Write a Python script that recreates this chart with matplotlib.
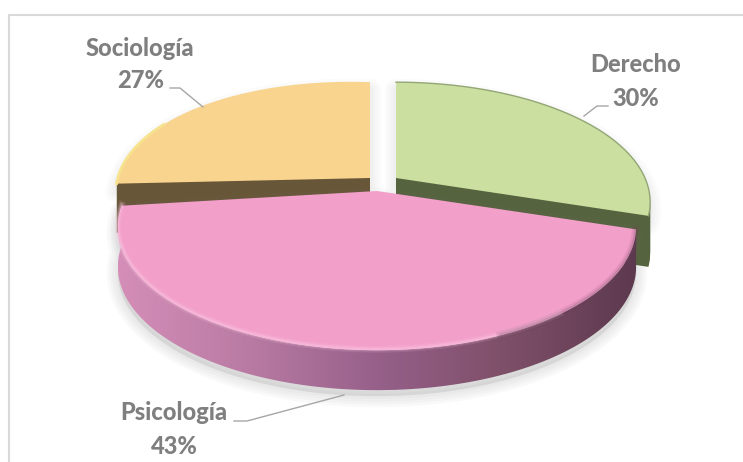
import matplotlib
matplotlib.use('Agg')
import matplotlib.pyplot as plt
from matplotlib.patches import Polygon
from matplotlib.colors import LinearSegmentedColormap
import numpy as np

# Data
categories = ['Derecho', 'Psicología', 'Sociología']
shares = [30, 43, 27]
top_colors = ['#CBE0A0', '#F29FCA', '#F9D48F']
wall_colors = ['#56633F', '#6B3F58', '#685638']

# Each slice is exploded, so it gets its own apex and perspective
# apex x, apex y, radius x, radius y, perspective, shear, thickness
slice_geom = {
    'Derecho': (396, 178, 249, 115, 0.2, 0.0, 52),
    'Psicología': (377, 191, 248, 113, 0.29, 0.0, 40),
    'Sociología': (370, 178, 249, 115, 0.2, 0.036, 50),
}

plt.rcParams['font.family'] = ['Lato', 'DejaVu Sans']

fig = plt.figure(figsize=(7.43, 4.62), dpi=100)
ax = fig.add_axes([0, 0, 1, 1])
ax.set_xlim(0, 743)
ax.set_ylim(462, 0)
ax.axis('off')


def rim(geom, a0, a1, n=160):
    # angles in degrees, clockwise from 12 o'clock, through a simple perspective
    cx, cy, rx, ry, k, s, th = geom
    t = np.radians(np.linspace(a0, a1, n))
    w = 1 + k * np.cos(t)
    dx = rx * np.sin(t) / w
    dy = -ry * np.cos(t) / w
    return np.column_stack([cx + dx, cy + dy + s * dx])


def soft_shadow(pts, dy, zorder, widths=(16, 12, 8, 4), alpha=0.03):
    for w in widths:
        ax.add_patch(Polygon(pts + [0, dy], closed=True, facecolor='#808080', edgecolor='#808080',
                             lw=w, alpha=alpha, joinstyle='round', zorder=zorder))


# Frame: only top and left show
ax.plot([9, 9, 743], [462, 15, 15], color='#D9D9D9', lw=1.5, zorder=0)

# Cumulative angles from the shares
edges = np.cumsum([0] + shares) / sum(shares) * 360
angles = {c: (edges[i], edges[i + 1]) for i, c in enumerate(categories)}

# Back slices first, then the front one over them
for name, z in [('Sociología', 2), ('Derecho', 3)]:
    i = categories.index(name)
    g = slice_geom[name]
    top = np.vstack([[g[0], g[1]], rim(g, *angles[name])])
    soft_shadow(top, 8, 1)
    for d in np.arange(1, g[6] + 1, 2):
        ax.add_patch(Polygon(top + [0, d], closed=True, facecolor=wall_colors[i], edgecolor='none', zorder=z))
    ax.add_patch(Polygon(top, closed=True, facecolor=top_colors[i], edgecolor='none', zorder=z + 0.1))

# Rim tints on the back slices
arc = rim(slice_geom['Derecho'], *angles['Derecho'])
ax.plot(arc[:, 0], arc[:, 1], color='#93A676', lw=1, zorder=3.2)
arc = rim(slice_geom['Sociología'], *angles['Sociología'])
arc = arc[arc[:, 0] < 165]
ax.plot(arc[:, 0], arc[:, 1], color='#F7E38E', lw=2, zorder=2.2)

# Front slice
i = categories.index('Psicología')
g = slice_geom['Psicología']
arc = rim(g, *angles['Psicología'])
top = np.vstack([[g[0], g[1]], arc])
wall = np.vstack([arc, arc[::-1] + [0, g[6]]])

soft_shadow(wall, 6, 1.5, alpha=0.045)
soft_shadow(top, 3, 3.5, widths=(10, 6))

grad = LinearSegmentedColormap.from_list('wall', ['#D48EB8', '#B97BA3', '#96608A', '#7E4F68', '#5C394E'])
im = ax.imshow(np.linspace(0, 1, 256)[None, :], cmap=grad, aspect='auto',
               extent=[arc[:, 0].min(), arc[:, 0].max(), 462, 0], zorder=4)
wall_patch = Polygon(wall, closed=True, facecolor='none', edgecolor='none', transform=ax.transData)
ax.add_patch(wall_patch)
im.set_clip_path(wall_patch)
ax.set_xlim(0, 743)
ax.set_ylim(462, 0)

ax.add_patch(Polygon(top, closed=True, facecolor=top_colors[i], edgecolor='none', zorder=4.5))

# Bevel highlight along the front rim of the top face
inner = arc[arc[:, 0] < 560]
for w, al in [(5, 0.12), (3, 0.2), (1.5, 0.3)]:
    ax.plot(inner[:, 0], inner[:, 1] - 1, color='#FFC9E4', lw=w, alpha=al, zorder=4.6)
shade = arc[arc[:, 0] > 500]
for w, al in [(6, 0.12), (3, 0.2)]:
    ax.plot(shade[:, 0], shade[:, 1], color='#6B3F58', lw=w, alpha=al, zorder=4.6)

# Labels and leader lines
text_kw = dict(color='#7F7F7F', fontsize=17, fontweight='black', ha='center', va='center', zorder=6)
ax.text(140, 48, 'Sociología', **text_kw)
ax.text(141, 80, f'{shares[2]}%', **text_kw)
ax.text(636, 65, 'Derecho', **text_kw)
ax.text(636, 98, f'{shares[0]}%', **text_kw)
ax.text(174, 413, 'Psicología', **text_kw)
ax.text(174, 447, f'{shares[1]}%', **text_kw)

line_kw = dict(color='#A6A6A6', lw=1, zorder=6)
ax.plot([170, 180, 203], [88, 88, 107], **line_kw)
ax.plot([608, 597, 584], [106, 106, 116], **line_kw)
ax.plot([234, 247, 344], [421, 421, 395], **line_kw)

fig.savefig('out.png', dpi=100, facecolor='white')
